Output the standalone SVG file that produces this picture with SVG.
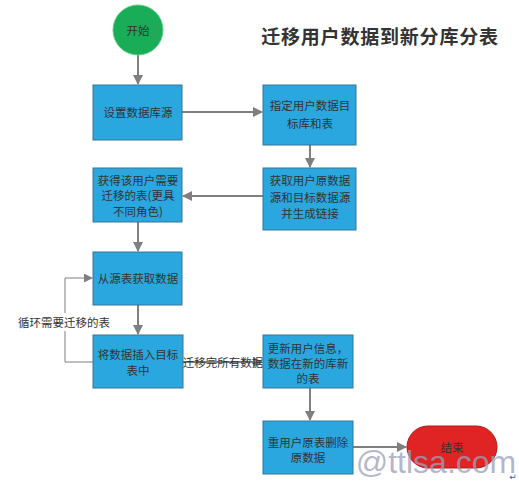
<svg xmlns="http://www.w3.org/2000/svg" width="519" height="483" viewBox="0 0 519 483">
<defs>
<style>
.box{fill:#2aa7df;stroke:#3a7593;stroke-width:1}
.t{font-family:"Noto Sans CJK SC","Liberation Sans",sans-serif;font-size:11.5px;fill:#333;text-anchor:middle;dominant-baseline:central}
.c{fill:none;stroke:#7f7f7f;stroke-width:2}
.thin{fill:none;stroke:#7f7f7f;stroke-width:1}
</style>
<marker id="ah" viewBox="0 0 10 10" refX="9" refY="5" markerWidth="5" markerHeight="5" orient="auto" markerUnits="strokeWidth"><path d="M0,0 L10,5 L0,10 z" fill="#7f7f7f"/></marker>
<marker id="ah2" viewBox="0 0 10 10" refX="9" refY="5" markerWidth="9" markerHeight="9" orient="auto" markerUnits="strokeWidth"><path d="M0,0 L10,5 L0,10 z" fill="#7f7f7f"/></marker>
</defs>
<rect width="519" height="483" fill="#fff"/>
<text x="380" y="35" font-family="'Noto Sans CJK SC','Liberation Sans',sans-serif" font-size="19" font-weight="bold" fill="#333" text-anchor="middle" dominant-baseline="central" letter-spacing="0.8">迁移用户数据到新分库分表</text>
<g id="connectors">
<path class="c" d="M138,55 V84" marker-end="url(#ah)"/>
<path class="c" d="M182,112 H262" marker-end="url(#ah)"/>
<path class="c" d="M310,145 V167" marker-end="url(#ah)"/>
<path class="c" d="M263,196 H183" marker-end="url(#ah)"/>
<path class="c" d="M138,222 V251" marker-end="url(#ah)"/>
<path class="c" d="M138,305 V334" marker-end="url(#ah)"/>
<path class="thin" d="M93,362 H65 V278 H92" marker-end="url(#ah2)"/>
<rect x="16" y="313" width="96" height="18" fill="#fff"/>
<text class="t" x="64" y="322">循环需要迁移的表</text>
<path class="c" d="M183,362 H262" marker-end="url(#ah)"/>
<text class="t" x="223" y="362" font-size="11">迁移完所有数据</text>
<path class="c" d="M310,388 V420" marker-end="url(#ah)"/>
<path class="c" d="M353,447 H406" marker-end="url(#ah)"/>
</g>
<g id="start"><circle cx="138" cy="30" r="25" fill="#1aad57" stroke="#5fcc8a" stroke-width="1"/><text class="t" x="138" y="30">开始</text></g>
<g id="n1"><rect class="box" x="93" y="85" width="89" height="55"/><text class="t" x="138" y="112">设置数据库源</text></g>
<g id="n2"><rect class="box" x="263" y="85" width="93" height="60"/><text class="t" x="310" y="105">指定用户数据目</text><text class="t" x="310" y="123">标库和表</text></g>
<g id="n3"><rect class="box" x="263" y="168" width="93" height="62"/><text class="t" x="310" y="180">获取用户原数据</text><text class="t" x="310" y="197">源和目标数据源</text><text class="t" x="310" y="213">并生成链接</text></g>
<g id="n4"><rect class="box" x="93" y="168" width="89" height="54"/><text class="t" x="138" y="180">获得该用户需要</text><text class="t" x="138" y="195">迁移的表(更具</text><text class="t" x="138" y="211">不同角色)</text></g>
<g id="n5"><rect class="box" x="93" y="252" width="89" height="53"/><text class="t" x="138" y="278">从源表获取数据</text></g>
<g id="n6"><rect class="box" x="93" y="335" width="90" height="53"/><text class="t" x="138" y="354">将数据插入目标</text><text class="t" x="138" y="370">表中</text></g>
<g id="n7"><rect class="box" x="263" y="335" width="90" height="53"/><text class="t" x="308" y="348">更新用户信息，</text><text class="t" x="308" y="363">数据在新的库新</text><text class="t" x="308" y="378">的表</text></g>
<g id="n8"><rect class="box" x="263" y="421" width="90" height="53"/><text class="t" x="308" y="442">重用户原表删除</text><text class="t" x="308" y="457">原数据</text></g>
<g id="end"><rect x="407" y="426" width="90" height="42" rx="21" fill="#e02424" stroke="#b01818" stroke-width="1"/><text class="t" x="452" y="447">结束</text></g>
<text x="436" y="462" font-family="'Liberation Sans',sans-serif" font-size="32" fill="#9aa0b8" fill-opacity="0.75" text-anchor="middle" dominant-baseline="central">@ttlsa.com</text>
<text x="513" y="477" font-family="'DejaVu Sans',sans-serif" font-size="9" fill="#3060c0" text-anchor="middle" dominant-baseline="central">↵</text>
</svg>
